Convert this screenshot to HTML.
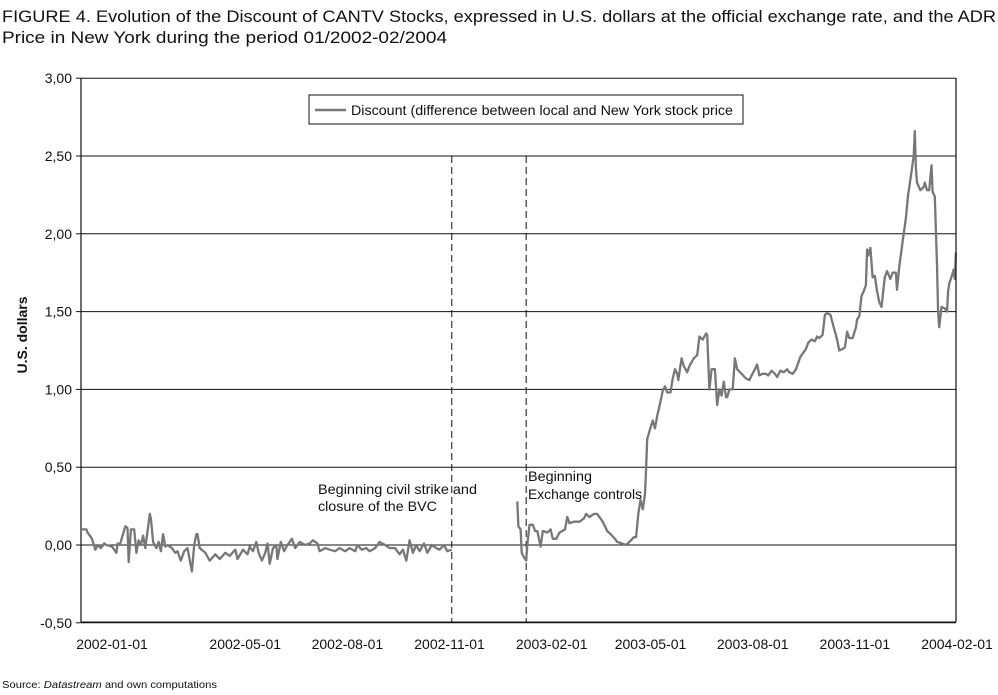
<!DOCTYPE html>
<html><head><meta charset="utf-8"><style>
body{margin:0;background:#fff;}
svg{display:block;font-family:"Liberation Sans",sans-serif;}
</style></head><body>
<svg id="chart" width="998" height="695" viewBox="0 0 998 695">
<text x="2" y="22" font-size="17" fill="#111" textLength="994" lengthAdjust="spacingAndGlyphs">FIGURE 4. Evolution of the Discount of CANTV Stocks, expressed in U.S. dollars at the official exchange rate, and the ADR</text>
<text x="2" y="43" font-size="17" fill="#111" textLength="445" lengthAdjust="spacingAndGlyphs">Price in New York during the period 01/2002-02/2004</text>
<text transform="translate(27,335) rotate(-90)" text-anchor="middle" font-size="14" font-weight="bold" fill="#111">U.S. dollars</text>
<text x="2" y="688" font-size="10" fill="#111" textLength="215" lengthAdjust="spacingAndGlyphs">Source: <tspan font-style="italic">Datastream</tspan> and own computations</text>
<g id="grid"></g>
<g id="marks"></g>
<g id="axes"></g>
<g>
<rect x="309" y="95" width="434" height="29" fill="#fff" stroke="#111" stroke-width="1"/>
<line x1="315" y1="110" x2="346" y2="110" stroke="#777" stroke-width="2.5"/>
<text x="351" y="115" font-size="14" fill="#111" textLength="382" lengthAdjust="spacingAndGlyphs">Discount (difference between local and New York stock price</text>
</g>
<text x="318" y="494" font-size="14" fill="#111" textLength="159" lengthAdjust="spacingAndGlyphs">Beginning civil strike and</text>
<text x="318" y="511" font-size="14" fill="#111" textLength="119" lengthAdjust="spacingAndGlyphs">closure of the BVC</text>
<text x="528" y="481" font-size="14" fill="#111" textLength="64" lengthAdjust="spacingAndGlyphs">Beginning</text>
<text x="528" y="499" font-size="14" fill="#111" textLength="114" lengthAdjust="spacingAndGlyphs">Exchange controls</text>
</svg>
<script>
// days since 2002-01-01
const seg1Days=[-27,-23,-22,-18,-15,-13,-10,-7,-5,0,4,5,7,12,14,15,17,20,22,24,26,28,30,34,35,37,40,42,44,46,48,50,54,57,59,62,65,68,72,74,76,77,79,84,88,93,97,102,106,111,113,118,122,124,127,130,132,135,138,140,142,145,148,149,152,155,158,162,165,169,174,178,181,185,187,192,196,201,205,210,214,219,221,225,229,232,237,241,246,250,255,259,262,265,268,271,274,277,281,284,288,292,295,299,302,306];
const seg1Values=[.10,.10,.08,.04,-.03,0,-.02,.01,0,-.01,-.05,.01,0,.12,.11,-.11,.10,.10,-.05,.03,0,.06,-.02,.20,.17,.02,-.02,.02,-.04,.07,-.01,0,-.02,-.05,-.04,-.10,-.04,-.02,-.17,0,.07,.07,-.02,-.05,-.10,-.06,-.09,-.05,-.07,-.03,-.09,-.03,-.06,-.01,-.04,.02,-.05,-.10,-.05,.01,-.12,-.02,0,-.09,.02,-.04,0,.04,-.02,.02,0,.01,.03,.01,-.04,-.02,-.03,-.04,-.02,-.04,-.02,-.04,0,-.03,-.02,-.04,-.02,.02,0,-.02,-.02,-.06,-.03,-.10,.03,-.05,0,-.04,.01,-.05,0,-.02,-.03,0,-.04,-.03];
const seg2Days=[365,366,368,369,371,373,374,376,379,381,383,386,388,392,395,397,400,403,408,410,412,416,421,425,427,430,434,437,442,446,449,453,455,459,463,466,470,472,474,476,478,480,481,482,484,487,489,491,493,496,498,500,503,505,507,509,510,513,515,518,520,524,527,529,532,535,536,538,540,543,545,547,549,551,553,554,556,559,561,563,567,571,574,576,579,581,583,586,589,591,594,597,599,602,605,608,610,613,616,618,620,622,625,627,630,633,635,637,640,642,644,647,650,653,655,658,660,662,664,667,670,671,673,675,677,679,680,681,683,685,687,689,691,693,696,698,701,703,706,707,709,712,715,717,718,720,722,723,724,725,728,731,732,734,736,738,739,741,743,744,745,747,750,752,753,754,756,758,759,760];
const seg2Values=[.28,.12,.10,-.05,-.08,-.10,0,.13,.13,.09,.09,-.01,.09,.08,.10,.04,.04,.08,.10,.18,.14,.15,.15,.17,.20,.18,.20,.20,.15,.09,.07,.04,.02,.01,0,.02,.05,.05,.20,.29,.23,.33,.49,.68,.73,.80,.75,.83,.89,.99,1.02,.98,.98,1.07,1.13,1.10,1.06,1.20,1.15,1.11,1.15,1.20,1.22,1.34,1.32,1.36,1.35,1.00,1.13,1.13,.90,1.00,.96,1.05,.95,.95,1.00,1.00,1.20,1.13,1.10,1.07,1.06,1.09,1.13,1.16,1.09,1.10,1.10,1.09,1.12,1.10,1.08,1.12,1.11,1.13,1.11,1.10,1.13,1.17,1.21,1.23,1.26,1.30,1.32,1.31,1.34,1.33,1.35,1.48,1.49,1.48,1.40,1.32,1.25,1.26,1.27,1.37,1.33,1.33,1.40,1.45,1.47,1.60,1.63,1.67,1.90,1.86,1.91,1.72,1.73,1.63,1.56,1.53,1.72,1.76,1.71,1.75,1.75,1.64,1.79,1.95,2.10,2.25,2.30,2.40,2.50,2.66,2.42,2.33,2.28,2.30,2.33,2.28,2.28,2.44,2.27,2.24,1.80,1.50,1.40,1.53,1.52,1.50,1.63,1.68,1.72,1.77,1.71,1.88];
const yTicks=[3.0,2.5,2.0,1.5,1.0,0.5,0.0,-0.5];
const yTickLabels=["3,00","2,50","2,00","1,50","1,00","0,50","0,00","-0,50"];
const xTickDays=[0,120,212,304,396,485,577,669,761];
const xTickLabels=["2002-01-01","2002-05-01","2002-08-01","2002-11-01","2003-02-01","2003-05-01","2003-08-01","2003-11-01","2004-02-01"];
const eventDays=[306,373];

const NS="http://www.w3.org/2000/svg";
const X0=81,X1=956,Y0=78,Y1=622;
function xs(d){return 112+d*(845/761);}
function ys(v){return 545-v*155.6;}
function mk(tag,attrs,parent){const e=document.createElementNS(NS,tag);for(const k in attrs)e.setAttribute(k,attrs[k]);document.getElementById(parent).appendChild(e);return e;}

yTicks.forEach((v,i)=>{
  const g=mk('line',{x1:X0,x2:X1,y1:ys(v),y2:ys(v),stroke:'#111','stroke-width':1},'grid');
  
  
  const t=mk('text',{x:X0-9,y:ys(v)+5,'text-anchor':'end','font-size':14,fill:'#111'},'axes');
  t.textContent=yTickLabels[i];
  
  
  const tk=mk('line',{x1:X0-5,x2:X0,y1:ys(v),y2:ys(v),stroke:'#111'},'axes');
  
  
});
let a=mk('line',{x1:X0,x2:X0,y1:Y0,y2:Y1,stroke:'#111','stroke-width':1.2},'axes');


a=mk('line',{x1:X1,x2:X1,y1:Y0,y2:Y1,stroke:'#111','stroke-width':1.2},'axes');


a=mk('line',{x1:X0,x2:X1,y1:Y1,y2:Y1,stroke:'#111','stroke-width':1},'axes');


xTickDays.forEach((d,i)=>{
  const t=mk('text',{x:xs(d),y:Y1+27,'text-anchor':'middle','font-size':14,fill:'#111'},'axes');
  t.textContent=xTickLabels[i];
  
  
});
eventDays.forEach(d=>{
  const l=mk('line',{x1:xs(d),x2:xs(d),y1:ys(2.5),y2:Y1,stroke:'#111','stroke-width':1,'stroke-dasharray':'7,4'},'marks');
  
  
});
function line(days,vals,name){
  const p=days.map((d,i)=>(i?'L':'M')+xs(d).toFixed(1)+','+ys(vals[i]).toFixed(1)).join('');
  const e=mk('path',{d:p,fill:'none',stroke:'#777','stroke-width':2.3,'stroke-linejoin':'round'},'marks');
  
  
}
line(seg1Days,seg1Values,'discount-line-2002');
line(seg2Days,seg2Values,'discount-line-2003');
</script>
</body></html>
